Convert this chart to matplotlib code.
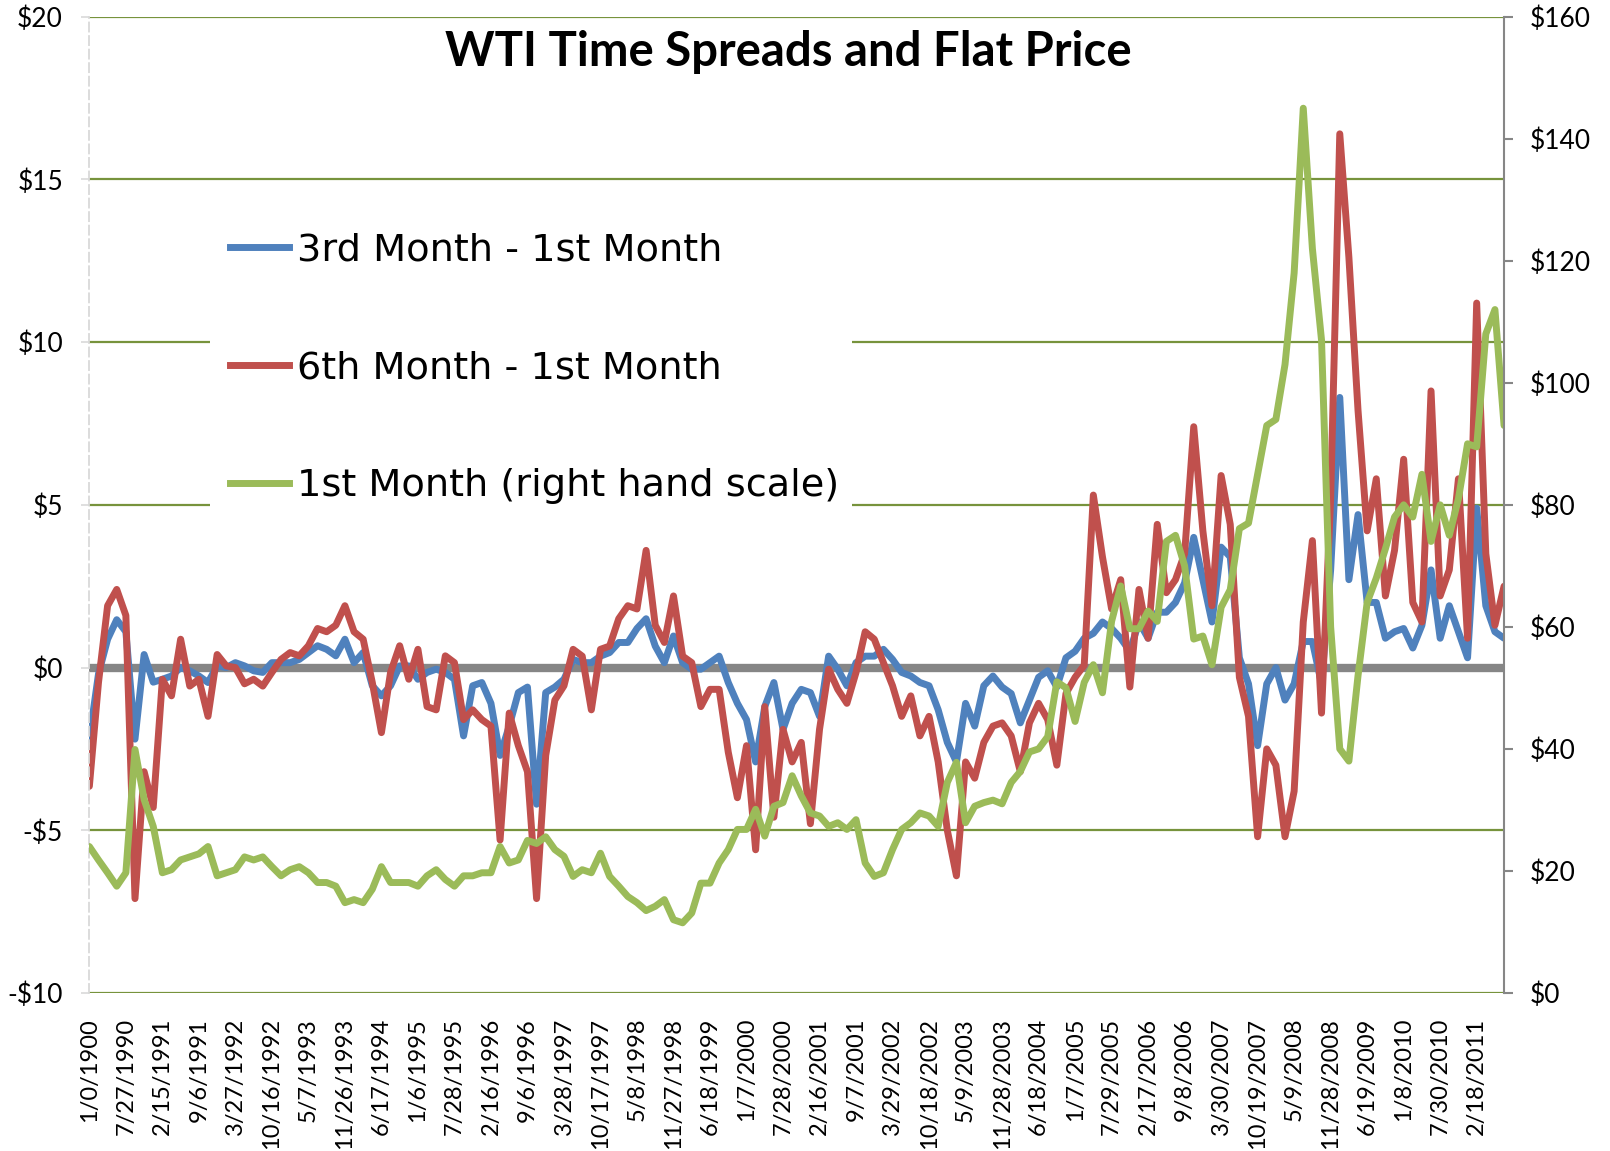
import numpy as np
import matplotlib
matplotlib.use('Agg')
import matplotlib.pyplot as plt
from matplotlib.lines import Line2D
from matplotlib.patches import Rectangle
from matplotlib.ticker import FuncFormatter

# weekly series, one value every quarter of a label step (label step = 29 weeks)
spread_3m = [
    -2.2, -0.2, 0.87, 1.47,  1.1, -2.2, 0.4, -0.45,  -0.36, -0.26, 0.0, -0.1,
    -0.26, -0.46, 0.05, 0.0,  0.15, 0.05, -0.1, -0.15,  0.15, 0.15, 0.15, 0.25,
    0.46, 0.67, 0.56, 0.36,  0.87, 0.15, 0.46, -0.56,  -0.87, -0.56, 0.05, 0.05,
    -0.36, -0.15, -0.05, -0.15,  -0.36, -2.1, -0.56, -0.46,  -1.1, -2.7, -1.8, -0.77,
    -0.6, -4.2, -0.77, -0.6,  -0.36, 0.25, 0.15, 0.15,  0.35, 0.46, 0.77, 0.77,
    1.2, 1.5, 0.66, 0.15,  0.97, 0.15, -0.05, -0.05,  0.15, 0.35, -0.46, -1.1,
    -1.6, -2.9, -1.2, -0.46,  -1.9, -1.1, -0.67, -0.77,  -1.5, 0.35, -0.05, -0.56,
    0.15, 0.35, 0.35, 0.56,  0.25, -0.15, -0.26, -0.46,  -0.56, -1.3, -2.3, -2.9,
    -1.1, -1.8, -0.56, -0.26,  -0.6, -0.8, -1.7, -1.0,  -0.3, -0.1, -0.6, 0.3,
    0.5, 0.9, 1.05, 1.4,  1.2, 0.9, 0.5, 1.4,  0.9, 1.7, 1.7, 2.0,
    2.6, 4.0, 2.7, 1.4,  3.7, 3.4, 0.3, -0.5,  -2.4, -0.5, 0.0, -1.0,
    -0.5, 0.8, 0.8, -0.5,  3.0, 8.3, 2.7, 4.7,  2.0, 2.0, 0.9, 1.1,
    1.2, 0.6, 1.3, 3.0,  0.9, 1.9, 1.1, 0.3,  4.9, 1.9, 1.1, 0.9,
]
spread_6m = [
    -3.65, -0.46, 1.9, 2.4,  1.6, -7.1, -3.2, -4.3,  -0.36, -0.87, 0.87, -0.57,
    -0.36, -1.5, 0.4, 0.05,  0.0, -0.5, -0.36, -0.57,  -0.15, 0.25, 0.46, 0.36,
    0.67, 1.2, 1.1, 1.3,  1.9, 1.1, 0.87, -0.46,  -2.0, -0.15, 0.67, -0.36,
    0.56, -1.2, -1.3, 0.36,  0.15, -1.6, -1.3, -1.6,  -1.8, -5.3, -1.4, -2.4,
    -3.2, -7.1, -2.7, -1.0,  -0.56, 0.56, 0.35, -1.3,  0.56, 0.66, 1.5, 1.9,
    1.8, 3.6, 1.3, 0.77,  2.2, 0.35, 0.15, -1.2,  -0.67, -0.67, -2.6, -4.0,
    -2.4, -5.6, -1.2, -4.6,  -1.9, -2.9, -2.3, -4.8,  -1.9, -0.05, -0.67, -1.1,
    -0.15, 1.1, 0.87, 0.15,  -0.56, -1.5, -0.87, -2.1,  -1.5, -2.9, -5.0, -6.4,
    -2.9, -3.4, -2.3, -1.8,  -1.7, -2.1, -3.2, -1.7,  -1.1, -1.6, -3.0, -0.8,
    -0.3, 0.07, 5.3, 3.4,  1.8, 2.7, -0.6, 2.4,  0.9, 4.4, 2.3, 2.7,
    3.5, 7.4, 4.2, 1.9,  5.9, 4.4, -0.3, -1.5,  -5.2, -2.5, -3.0, -5.2,
    -3.8, 1.4, 3.9, -1.4,  5.2, 16.4, 12.6, 7.9,  4.2, 5.8, 2.2, 3.6,
    6.4, 2.0, 1.4, 8.5,  2.2, 3.0, 5.8, 0.9,  11.2, 3.5, 1.3, 2.5,
]
front_month = [
    24.0, 21.8, 19.7, 17.5,  19.7, 39.9, 31.7, 27.3,  19.7, 20.2, 21.8, 22.3,
    22.8, 24.0, 19.2, 19.7,  20.2, 22.3, 21.8, 22.3,  20.7, 19.2, 20.2, 20.7,
    19.7, 18.1, 18.1, 17.5,  14.8, 15.3, 14.8, 17.0,  20.7, 18.1, 18.1, 18.1,
    17.5, 19.2, 20.2, 18.6,  17.5, 19.2, 19.2, 19.7,  19.7, 24.0, 21.3, 21.8,
    25.0, 24.5, 25.6, 23.5,  22.4, 19.1, 20.2, 19.7,  22.9, 19.1, 17.5, 15.8,
    14.8, 13.5, 14.2, 15.3,  12.0, 11.5, 13.1, 18.0,  18.0, 21.3, 23.5, 26.8,
    26.8, 30.1, 25.7, 30.6,  31.2, 35.6, 32.3, 29.5,  29.0, 27.3, 27.9, 26.8,
    28.4, 21.3, 19.1, 19.7,  23.5, 26.8, 27.9, 29.5,  29.0, 27.3, 34.5, 37.8,
    27.9, 30.6, 31.2, 31.6,  31.0, 34.5, 36.3, 39.5,  40.0, 42.0, 51.0, 50.0,
    44.5, 50.9, 53.8, 49.2,  60.9, 66.7, 59.7, 59.7,  62.6, 60.9, 74.0, 75.0,
    70.0, 58.0, 58.5, 53.8,  63.2, 66.1, 76.1, 77.0,  85.0, 93.0, 94.0, 103.0,
    118.0, 145.0, 122.0, 107.0,  60.0, 40.0, 38.0, 52.0,  64.0, 68.0, 72.8, 78.0,
    80.0, 78.0, 85.0, 74.0,  80.0, 75.0, 81.0, 90.0,  89.5, 108.0, 112.0, 93.0,
]
date_labels = [
    '1/0/1900', '7/27/1990', '2/15/1991', '9/6/1991', '3/27/1992', '10/16/1992',
    '5/7/1993', '11/26/1993', '6/17/1994', '1/6/1995', '7/28/1995', '2/16/1996',
    '9/6/1996', '3/28/1997', '10/17/1997', '5/8/1998', '11/27/1998', '6/18/1999',
    '1/7/2000', '7/28/2000', '2/16/2001', '9/7/2001', '3/29/2002', '10/18/2002',
    '5/9/2003', '11/28/2003', '6/18/2004', '1/7/2005', '7/29/2005', '2/17/2006',
    '9/8/2006', '3/30/2007', '10/19/2007', '5/9/2008', '11/28/2008', '6/19/2009',
    '1/8/2010', '7/30/2010', '2/18/2011',
]
series_names = ['3rd Month - 1st Month', '6th Month - 1st Month', '1st Month (right hand scale)']

WEEKS_PER_LABEL = 29
weeks = np.arange(len(spread_3m)) * WEEKS_PER_LABEL / 4

blue, red, green = '#4F81BD', '#C0504D', '#9BBB59'
grid_green = '#77933C'
axis_gray = '#868686'

fig = plt.figure(figsize=(16.1, 11.51), dpi=100)
ax = fig.add_axes([0.0555, 0.1373, 0.8787, 0.8482])
ax2 = ax.twinx()

lw = 5.0
ax.axhline(0, color=axis_gray, lw=6, zorder=1.8)
ax.plot(weeks, spread_3m, color=blue, lw=lw, solid_joinstyle='round', solid_capstyle='round', zorder=2)
ax.plot(weeks, spread_6m, color=red, lw=lw, solid_joinstyle='round', solid_capstyle='round', zorder=2.1)
ax2.plot(weeks, front_month, color=green, lw=lw, solid_joinstyle='round', solid_capstyle='round')

ax.set_xlim(0, weeks[-1])
ax.set_ylim(-10, 20)
ax2.set_ylim(0, 160)

money = FuncFormatter(lambda v, p: ('-$%d' % abs(v)) if v < 0 else ('$%d' % v))
ax.set_yticks(np.arange(-10, 21, 5))
ax.yaxis.set_major_formatter(money)
ax2.set_yticks(np.arange(0, 161, 20))
ax2.yaxis.set_major_formatter(money)

ax.set_axisbelow(True)
ax.grid(axis='y', color=grid_green, lw=1.6)
ax.grid(axis='x', visible=False)

ax.set_xticks(np.arange(len(date_labels)) * WEEKS_PER_LABEL)
ax.set_xticklabels(date_labels, rotation=90, fontsize=17, family='Lato')
ax.tick_params(axis='x', length=0, pad=18)
ax.tick_params(axis='y', length=6, width=1.2, color='#D9D9D9', pad=13, labelsize=19)
ax2.tick_params(axis='y', length=6.5, width=1.5, color=axis_gray, pad=12, labelsize=19)
for lab in ax.get_yticklabels() + ax2.get_yticklabels():
    lab.set_family('Lato')

for s in ['top', 'bottom']:
    ax.spines[s].set_visible(False)
    ax2.spines[s].set_visible(False)
ax.spines['right'].set_visible(False)
ax2.spines['left'].set_visible(False)
ax.spines['left'].set_color('#D9D9D9')
ax.spines['left'].set_linewidth(1.3)
ax.spines['left'].set_linestyle((0, (5, 2.5)))
ax2.spines['right'].set_color(axis_gray)
ax2.spines['right'].set_linewidth(1.5)

# white box behind the legend hides the gridlines
ax.add_patch(Rectangle((0.1304, 0.5439), 0.3988, 0.2824, transform=fig.transFigure,
                       facecolor='white', edgecolor='none', zorder=1.5))

handles = [Line2D([], [], color=c, lw=lw) for c in (blue, red, green)]
ax2.legend(handles, series_names, loc='center left', bbox_to_anchor=(0.1429, 0.680),
           bbox_transform=fig.transFigure, frameon=False, borderpad=0, borderaxespad=0,
           prop={'family': 'DejaVu Sans', 'size': 27.5}, labelspacing=2.14,
           handlelength=1.55, handletextpad=0.2)

fig.text(0.4894, 0.9545, 'WTI Time Spreads and Flat Price', ha='center', va='center',
         fontsize=34, fontweight='bold', family='Lato')

fig.savefig('out.png', dpi=100)
